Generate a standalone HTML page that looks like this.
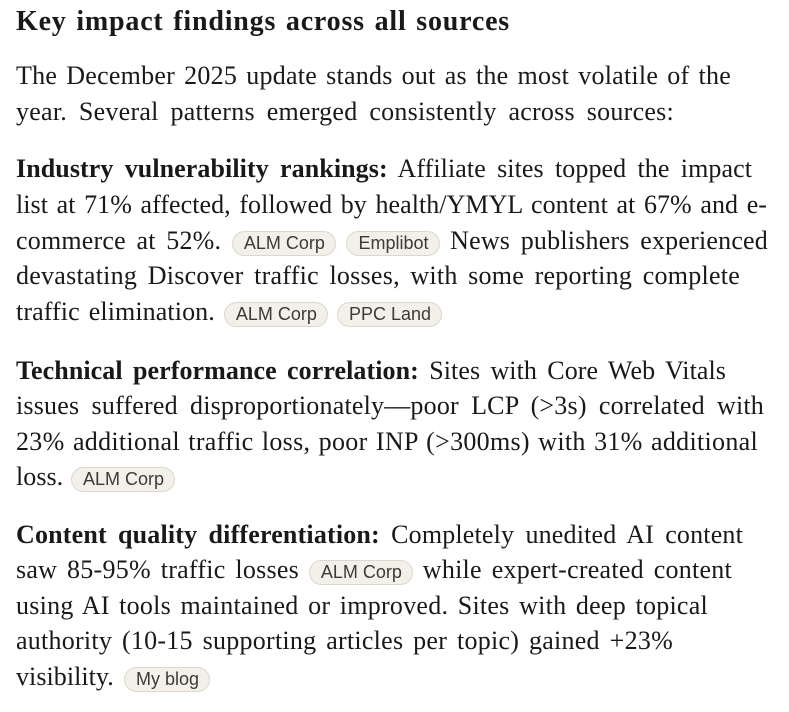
<!DOCTYPE html>
<html>
<head>
<meta charset="utf-8">
<style>
  html, body { margin: 0; padding: 0; background: #ffffff; }
  body { width: 789px; height: 712px; position: relative; overflow: hidden; }
  .ln {
    position: absolute; left: 16px;
    font-family: "Liberation Serif", "DejaVu Serif", serif;
    font-size: 26px; line-height: 36px; height: 36px;
    color: #1a1917;
    text-align: justify; text-align-last: justify;
    letter-spacing: 0.05px;
  }
  .ttl {
    position: absolute; left: 16px; top: 4.3px; width: 494px;
    font-family: "Liberation Serif", "DejaVu Serif", serif;
    font-weight: bold; font-size: 28px; line-height: 36px; height: 36px;
    color: #1a1917; letter-spacing: 0.8px;
    text-align: justify; text-align-last: justify;
  }
  b { font-weight: bold; }
  .pill {
    display: inline-block;
    font-family: "Liberation Sans", "DejaVu Sans", sans-serif;
    font-size: 18px; line-height: 23px; height: 23px;
    padding: 0 10px 0 11px;
    border: 1px solid #dcd8cc; border-radius: 13px;
    background: #f2f0e9; color: #3d3b36;
    letter-spacing: 0; vertical-align: baseline;
    text-align: left;
  }
</style>
</head>
<body>
<div class="ttl">Key impact findings across all sources</div>

<div class="ln" style="top:58.2px;width:715px;letter-spacing:0.25px;">The December 2025 update stands out as the most volatile of the</div>
<div class="ln" style="top:93.8px;width:658px;letter-spacing:0.25px;">year. Several patterns emerged consistently across sources:</div>

<div class="ln" style="top:151.2px;width:736px;letter-spacing:0.08px;"><b>Industry vulnerability rankings:</b> Affiliate sites topped the impact</div>
<div class="ln" style="top:186.9px;width:751px;letter-spacing:0.05px;">list at 71% affected, followed by health/YMYL content at 67% and e-</div>
<div class="ln" style="top:222.5px;width:752px;letter-spacing:0.2px;">commerce at 52%. <span class="pill">ALM Corp</span> <span class="pill">Emplibot</span> News publishers experienced</div>
<div class="ln" style="top:258.2px;width:724px;letter-spacing:0.25px;">devastating Discover traffic losses, with some reporting complete</div>
<div class="ln" style="top:293.8px;width:426px;letter-spacing:0.1px;">traffic elimination. <span class="pill">ALM Corp</span> <span class="pill">PPC Land</span></div>

<div class="ln" style="top:352.5px;width:710px;letter-spacing:0.08px;"><b>Technical performance correlation:</b> Sites with Core Web Vitals</div>
<div class="ln" style="top:388.2px;width:748px;letter-spacing:0.2px;">issues suffered disproportionately—poor LCP (&gt;3s) correlated with</div>
<div class="ln" style="top:423.7px;width:742px;letter-spacing:0.3px;">23% additional traffic loss, poor INP (&gt;300ms) with 31% additional</div>
<div class="ln" style="top:459.2px;width:159px;">loss. <span class="pill">ALM Corp</span></div>

<div class="ln" style="top:516.6px;width:727px;letter-spacing:0.18px;"><b>Content quality differentiation:</b> Completely unedited AI content</div>
<div class="ln" style="top:552.2px;width:716px;letter-spacing:0.25px;">saw 85-95% traffic losses <span class="pill">ALM Corp</span> while expert-created content</div>
<div class="ln" style="top:587.8px;width:692px;letter-spacing:0.25px;">using AI tools maintained or improved. Sites with deep topical</div>
<div class="ln" style="top:623.4px;width:657px;letter-spacing:0.25px;">authority (10-15 supporting articles per topic) gained +23%</div>
<div class="ln" style="top:659px;width:194px;">visibility. <span class="pill">My blog</span></div>
</body>
</html>
